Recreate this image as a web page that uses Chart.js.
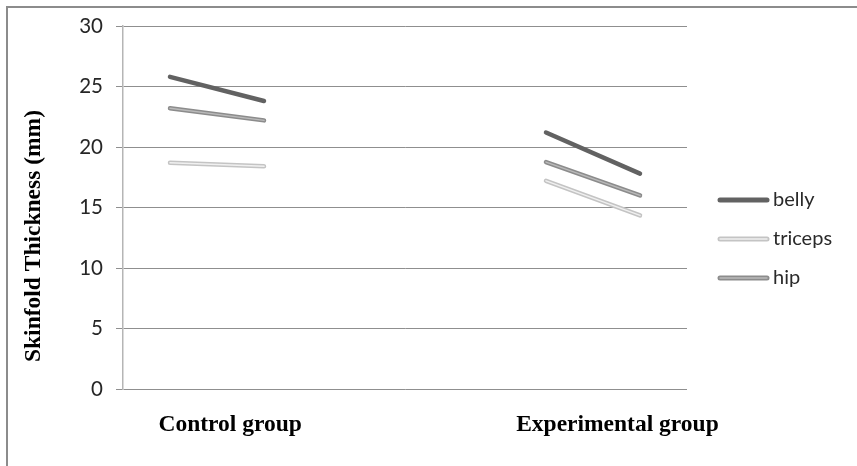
<!DOCTYPE html>
<html>
<head>
<meta charset="utf-8">
<script src="https://cdn.jsdelivr.net/npm/chart.js@4"></script>
<style>
  html, body { margin: 0; padding: 0; background: #ffffff; }
  #wrap { position: relative; width: 857px; height: 466px; overflow: hidden; background: #ffffff; }
  #frame { position: absolute; left: 6px; top: 6px; width: 1000px; height: 1000px;
           border-left: 2px solid #8c8c8c; border-top: 2px solid #8c8c8c; pointer-events: none; }
  canvas { position: absolute; left: 0; top: 0; }
</style>
</head>
<body>
<div id="wrap">
  <canvas id="c" width="857" height="466"></canvas>
  <div id="frame"></div>
</div>
<script>
// ---- data ----
const groups = ['Control group', 'Experimental group'];
const seriesNames = ['belly', 'triceps', 'hip'];
// values: [control before, control after, experimental before, experimental after]
const bellyValues   = [25.8, 23.8, 21.2, 17.8];
const tricepsValues = [18.7, 18.4, 17.2, 14.35];
const hipValues     = [23.2, 22.2, 18.75, 16.0];
const yTicks = [0, 5, 10, 15, 20, 25, 30];

// slot positions on the x scale (two slots per group, gap between groups)
const slotX = [0.5, 1.5, 4.5, 5.5];
const groupLabelX = [1.14, 5.26];

function buildSeries(vals) {
  return [
    { x: slotX[0], y: vals[0] },
    { x: slotX[1], y: vals[1] },
    { x: 3, y: null },
    { x: slotX[2], y: vals[2] },
    { x: slotX[3], y: vals[3] }
  ];
}

const styles = {
  belly:   { outer: '#626262', inner: null,      w: 4.5 },
  triceps: { outer: '#c4c4c4', inner: '#f0f0f0', w: 4.5 },
  hip:     { outer: '#8c8c8c', inner: '#bababa', w: 4.5 }
};
const valueMap = { belly: bellyValues, triceps: tricepsValues, hip: hipValues };

const datasets = [];
seriesNames.forEach(name => {
  const s = styles[name];
  datasets.push({
    label: name, data: buildSeries(valueMap[name]), borderColor: s.outer,
    borderWidth: s.w, borderCapStyle: 'round', pointRadius: 0, spanGaps: false,
    showInLegend: true, innerColor: s.inner, fill: false, tension: 0, order: 2
  });
});
seriesNames.forEach(name => {
  const s = styles[name];
  if (s.inner) {
    datasets.push({
      label: name + '-inner', data: buildSeries(valueMap[name]), borderColor: s.inner,
      borderWidth: 1.5, borderCapStyle: 'round', pointRadius: 0, spanGaps: false,
      showInLegend: false, fill: false, tension: 0, order: 1
    });
  }
});

const extrasPlugin = {
  id: 'extras',
  afterDraw(chart) {
    const ctx = chart.ctx;
    const area = chart.chartArea;
    ctx.save();
    // y-axis title
    ctx.translate(34, 236);
    ctx.rotate(-Math.PI / 2);
    ctx.font = 'bold 23.5px "Liberation Serif", "Times New Roman", serif';
    ctx.fillStyle = '#000000';
    ctx.textAlign = 'center';
    ctx.textBaseline = 'middle';
    ctx.fillText('Skinfold Thickness (mm)', 0, 0);
    ctx.restore();

    // legend
    ctx.save();
    const lx = area.right + 33;
    let ly = 200;
    chart.data.datasets.filter(d => d.showInLegend).forEach(d => {
      ctx.lineCap = 'round';
      ctx.strokeStyle = d.borderColor;
      ctx.lineWidth = 5;
      ctx.beginPath(); ctx.moveTo(lx, ly); ctx.lineTo(lx + 47, ly); ctx.stroke();
      if (d.innerColor) {
        ctx.strokeStyle = d.innerColor;
        ctx.lineWidth = 1.5;
        ctx.beginPath(); ctx.moveTo(lx, ly); ctx.lineTo(lx + 47, ly); ctx.stroke();
      }
      ctx.font = '20px Lato, "Open Sans", sans-serif';
      ctx.fillStyle = '#2a2a2a';
      ctx.textAlign = 'left';
      ctx.textBaseline = 'middle';
      ctx.fillText(d.label, lx + 53, ly);
      ly += 39;
    });
    ctx.restore();
  }
};

new Chart(document.getElementById('c'), {
  type: 'line',
  data: { datasets },
  options: {
    responsive: false,
    animation: false,
    devicePixelRatio: 1,
    layout: { padding: { left: 0, right: 170, top: 26, bottom: 0 } },
    plugins: { legend: { display: false }, tooltip: { enabled: false } },
    scales: {
      x: {
        type: 'linear', min: 0, max: 6,
        grid: { display: false, drawTicks: false },
        border: { display: false },
        afterBuildTicks(scale) { scale.ticks = groupLabelX.map(v => ({ value: v })); },
        afterFit(scale) { scale.height = 77; },
        ticks: {
          padding: 22,
          color: '#000000',
          font: { family: '"Liberation Serif", "Times New Roman", serif', size: 23.5, weight: 'bold' },
          callback(value) {
            const i = groupLabelX.indexOf(value);
            return i >= 0 ? groups[i] : '';
          }
        }
      },
      y: {
        min: 0, max: 30,
        afterBuildTicks(scale) { scale.ticks = yTicks.map(v => ({ value: v })); },
        afterFit(scale) { scale.width = 123; },
        grid: { color: '#8f8f8f', lineWidth: 1, tickLength: 7, drawTicks: true },
        border: { display: true, color: '#b5b5b5', width: 1.5 },
        ticks: {
          padding: 13,
          color: '#262626',
          font: { family: 'Lato, "Open Sans", sans-serif', size: 20.5 }
        }
      }
    }
  },
  plugins: [extrasPlugin]
});
</script>
</body>
</html>
